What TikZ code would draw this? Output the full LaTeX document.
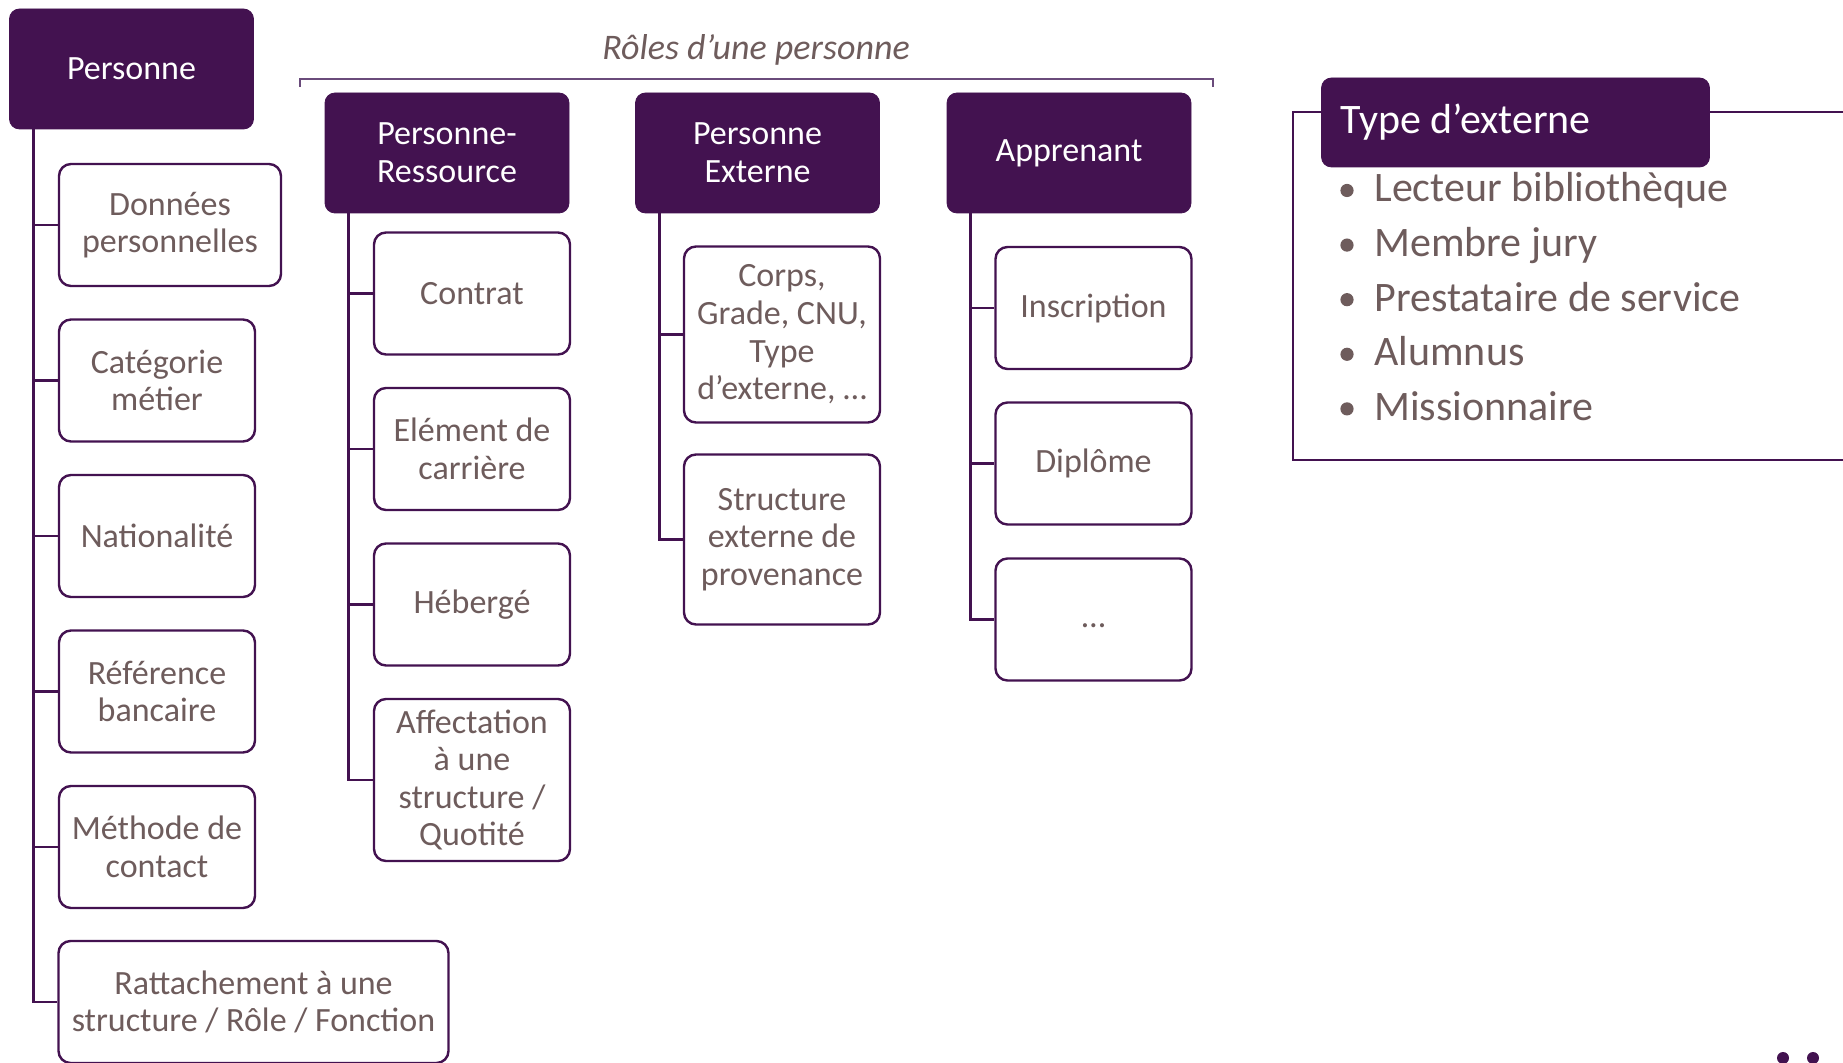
\documentclass[tikz,border=0pt]{standalone}
\usepackage{fontspec}
\setmainfont{Carlito}
\definecolor{pdark}{HTML}{431250}
\definecolor{tgray}{HTML}{6E5C5C}
\definecolor{plight}{HTML}{6A4B7B}
\begin{document}
\begin{tikzpicture}[x=0.5pt,y=-0.5pt,
  hdr/.style={fill=pdark, draw=pdark, rounded corners=5pt, text=white, align=center,
    font=\fontsize{17}{18.8}\selectfont, inner sep=0pt, minimum width=122pt, minimum height=60pt},
  cbox/.style={draw=pdark, line width=1.2pt, fill=white, rounded corners=6pt, text=tgray,
    align=center, font=\fontsize{17}{18.8}\selectfont, inner sep=0pt, minimum width=98pt, minimum height=61pt},
  link/.style={draw=pdark, line width=1.4pt},
  bul/.style={anchor=base west, inner sep=0pt, text=tgray, font=\fontsize{21}{24}\selectfont}]
\useasboundingbox (0,0) rectangle (1843,1063);

% headers
\node[hdr] (P) at (131.5,69) {Personne};
\node[hdr] (PR) at (447,153) {Personne-\\Ressource};
\node[hdr] (PE) at (757.5,153) {Personne\\Externe};
\node[hdr] (AP) at (1069,153) {Apprenant};

% Personne children
\node[cbox, minimum width=111pt] (P1) at (170,225) {Données\\personnelles};
\node[cbox] (P2) at (157,380.5) {Catégorie\\métier};
\node[cbox] (P3) at (157,536) {Nationalité};
\node[cbox] (P4) at (157,691.5) {Référence\\bancaire};
\node[cbox] (P5) at (157,847) {Méthode de\\contact};
\node[cbox, minimum width=195pt] (P6) at (253.5,1002) {Rattachement à une\\structure / Rôle / Fonction};

% Personne-Ressource children
\node[cbox] (R1) at (472,293.5) {Contrat};
\node[cbox] (R2) at (472,449) {Elément de\\carrière};
\node[cbox] (R3) at (472,604.5) {Hébergé};
\node[cbox, minimum height=81pt] (R4) at (472,780) {Affectation\\à une\\structure /\\Quotité};

% Personne Externe children
\node[cbox, minimum height=88pt] (E1) at (782,334.5) {Corps,\\Grade, CNU,\\Type\\d’externe, …};
\node[cbox, minimum height=85pt] (E2) at (782,539.5) {Structure\\externe de\\provenance};

% Apprenant children
\node[cbox] (A1) at (1093.5,308) {Inscription};
\node[cbox] (A2) at (1093.5,463.5) {Diplôme};
\node[cbox] (A3) at (1093.5,619.5) {\vphantom{Ap}…};

% connectors
\foreach \c in {P1,P2,P3,P4,P5,P6} \draw[link] ([xshift=12pt]P.south west) |- (\c.west);
\foreach \c in {R1,R2,R3,R4} \draw[link] ([xshift=12pt]PR.south west) |- (\c.west);
\foreach \c in {E1,E2} \draw[link] ([xshift=12pt]PE.south west) |- (\c.west);
\foreach \c in {A1,A2,A3} \draw[link] ([xshift=12pt]AP.south west) |- (\c.west);

% roles title and bracket
\node[anchor=base, inner sep=0pt, text=tgray, font=\itshape\fontsize{18}{20}\selectfont] (T) at (756,60) {Rôles d’une personne};
\coordinate (bl) at (300,87);
\coordinate (br) at (1213,87);
\draw[plight, line width=0.8pt] (bl) -- ++(0,-8) -| (br);

% Type d'externe frame
\coordinate (f1) at (1850,112);
\coordinate (f2) at (1293,112);
\coordinate (f3) at (1293,460);
\coordinate (f4) at (1850,460);
\draw[pdark, line width=1pt] (f1) -- (f2) -- (f3) -- (f4);
\node[hdr, minimum width=194pt, minimum height=44.5pt, inner xsep=9.5pt,
  font=\fontsize{21}{24}\selectfont] (TE) at (1515.5,122.5) {\makebox[175pt][l]{Type d’externe}};

\foreach \t [count=\i] in {Lecteur bibliothèque, Membre jury, Prestataire de service, Alumnus, Missionnaire} {
  \fill[tgray] (1347,{190.5+54.6*(\i-1)}) circle[radius=3.3pt];
  \node[bul] (L\i) at (1374,{202+54.6*(\i-1)}) {\t};
}

% page dots
\fill[pdark] (1783,1058) circle[radius=3pt];
\fill[pdark] (1813,1058) circle[radius=3pt];
\end{tikzpicture}
\end{document}
